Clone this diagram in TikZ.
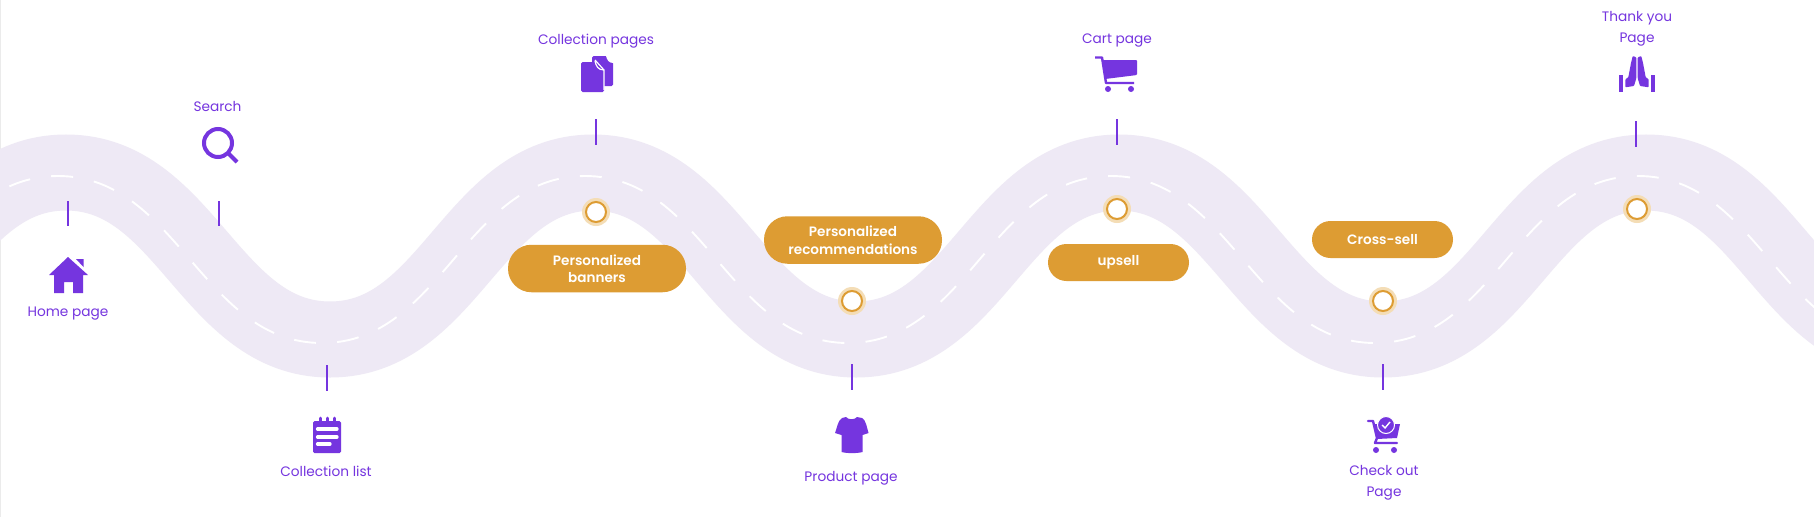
\documentclass[tikz,border=0pt]{standalone}
\usepackage{fontspec}
\setmainfont[BoldFont={Poppins SemiBold}]{Poppins}
\usetikzlibrary{positioning}
\definecolor{roadcol}{HTML}{EEE9F5}
\definecolor{iconcol}{HTML}{7535DF}
\definecolor{pillcol}{HTML}{DD9C33}
\definecolor{halocol}{HTML}{F4DDB6}
\tikzset{
  every node/.style={font=\fontsize{13.7}{21}\selectfont},
  label text/.style={text=iconcol,align=center,inner sep=0pt},
  pill/.style={fill=pillcol,rounded corners=23.5pt,minimum height=47.5pt,minimum width=178pt,
    text=white,align=center,inner sep=0pt,font=\fontsize{13.6}{17.5}\selectfont\bfseries},
  tick line/.style={draw=iconcol,line width=1.6pt},
  icon/.style={fill=iconcol,draw=none},
  cutout/.style={draw=white,line width=1.2pt},
  halo dot/.style={circle,fill=white,draw=pillcol,line width=2pt,minimum size=20pt,inner sep=0pt},
}
\newcommand{\roadwave}{(-205,343) .. controls (-85,343) and (-62,176) .. (58,176)
  .. controls (178,176) and (202,343) .. (322,343)
  .. controls (442,343) and (465,176) .. (585,176)
  .. controls (705,176) and (728,343) .. (848,343)
  .. controls (968,343) and (991,176) .. (1111,176)
  .. controls (1231,176) and (1255,343) .. (1375,343)
  .. controls (1495,343) and (1518,176) .. (1638,176)
  .. controls (1758,176) and (1781,343) .. (1901,343)}
\begin{document}
\begin{tikzpicture}[x=1pt,y=-1pt]
  \useasboundingbox (0,0) rectangle (1814,517);
  \clip (0,0) rectangle (1814,517);
  \fill[white] (0,0) rectangle (1814,517);
  \draw[black!8,line width=1pt] (0.5,0) -- (0.5,517);

  \begin{scope}[xshift=8pt,yshift=3.5pt]
    \draw[roadcol,line width=76pt] \roadwave;
  \end{scope}
  \draw[white,line width=1.9pt,dash pattern=on 22pt off 21.24pt,dash phase=29.67pt] \roadwave;

  \draw[tick line] (68,201) -- (68,226);
  \draw[tick line] (219,201) -- (219,226);
  \draw[tick line] (327,365) -- (327,391);
  \draw[tick line] (596,119) -- (596,145);
  \draw[tick line] (852,364) -- (852,390);
  \draw[tick line] (1117,119) -- (1117,145);
  \draw[tick line] (1383,364) -- (1383,390);
  \draw[tick line] (1636,121) -- (1636,147);

  \node[pill] (banners) at (597,268.5) {Personalized\\banners};
  \node[pill] (recommend) at (853,240) {Personalized\\recommendations};
  \node[pill,minimum width=141pt,minimum height=37pt,rounded corners=18.5pt] (upsell) at (1118.5,262.5) {upsell};
  \node[pill,minimum width=141pt,minimum height=37pt,rounded corners=18.5pt] (crosssell) at (1382.5,239.5) {Cross-sell};

  \fill[halocol] (596,212) circle[radius=14];
  \fill[halocol] (852,301) circle[radius=14];
  \fill[halocol] (1117,209) circle[radius=14];
  \fill[halocol] (1383,301) circle[radius=14];
  \fill[halocol] (1637,209) circle[radius=14];
  \node[halo dot] (stop1) at (596,212) {};
  \node[halo dot] (stop2) at (852,301) {};
  \node[halo dot] (stop3) at (1117,209) {};
  \node[halo dot] (stop4) at (1383,301) {};
  \node[halo dot] (stop5) at (1637,209) {};

  \node[label text] (home) at (68,314) {Home page};
  \node[label text] (search) at (217.5,106) {Search};
  \node[label text] (list) at (326,471) {Collection list};
  \node[label text] (pages) at (596,41) {Collection pages};
  \node[label text] (product) at (851,478.5) {Product page};
  \node[label text] (cart) at (1117,41) {Cart page};
  \node[label text] (checkout) at (1384,482.5) {Check out\\Page};
  \node[label text] (thanks) at (1637,28.5) {Thank you\\Page};

  % home
  \fill[icon] (68,257) -- (88,275) -- (83,275) -- (83,293) -- (73,293) -- (73,282) -- (64,282)
    -- (64,293) -- (54,293) -- (54,275) -- (49,275) -- cycle;
  \fill[icon] (76,259) -- (83.5,259) -- (83.5,267) -- cycle;

  % search
  \draw[iconcol,line width=4pt] (218,143) circle[radius=14];
  \draw[iconcol,line width=4pt] (228,153) -- (237,162);

  % documents
  \fill[icon,rounded corners=1.5pt] (592,56) -- (607,56) -- (613,62) -- (613,86) -- (592,86) -- cycle;
  \fill[icon,rounded corners=1.5pt] (581,62) -- (596,62) -- (604,70) -- (604,92) -- (581,92) -- cycle;
  \draw[cutout] (595,60) -- (604,70) -- (604,90);
  \draw[cutout] (595,61) .. controls (596,66) and (598,70) .. (604,70);
  \fill[white] (606,56) -- (613,56) -- (613,63) .. controls (609,63) and (607,60) .. (606,56);

  % notepad
  \fill[icon,rounded corners=1.5pt] (313,421) rectangle (341,453);
  \draw[iconcol,line width=3pt,line cap=round] (320,418) -- (320,422);
  \draw[iconcol,line width=3pt,line cap=round] (327,418) -- (327,422);
  \draw[iconcol,line width=3pt,line cap=round] (334,418) -- (334,422);
  \draw[white,line width=3.2pt,line cap=round] (317.5,429) -- (337,429);
  \draw[white,line width=3.2pt,line cap=round] (317.5,437) -- (337,437);
  \draw[white,line width=3.2pt,line cap=round] (317.5,444) -- (330,444);

  % shirt
  \fill[icon] (842,418) -- (846,417) .. controls (848,420) and (855,420) .. (857,417) -- (862,418)
    .. controls (866,420) and (867,428) .. (868.5,433) -- (862.5,435) -- (862.5,452)
    .. controls (857,453.5) and (847,453.5) .. (841.5,452) -- (841.5,435) -- (835,433)
    .. controls (837,428) and (838,420) .. (842,418) -- cycle;

  % cart
  \draw[iconcol,line width=2.4pt,line join=round] (1095,57.5) -- (1102,57.5) -- (1106,83) -- (1134,83);
  \fill[icon,rounded corners=1pt] (1102,60) -- (1137,60) -- (1137,75) -- (1105,79) -- cycle;
  \fill[iconcol] (1108,89) circle[radius=3];
  \fill[iconcol] (1131,89) circle[radius=3];

  % checkout
  \draw[iconcol,line width=2.4pt,line cap=round,line join=round] (1368,421) -- (1373,421) -- (1377,438)
    -- (1375,443) -- (1397,443);
  \fill[icon] (1373,424) -- (1400,424) -- (1397,438) -- (1377,439) -- cycle;
  \fill[icon,draw=white,line width=1pt] (1386,425) circle[radius=8.5];
  \draw[white,line width=1.4pt] (1382,425) -- (1385,428) -- (1390,422);
  \fill[iconcol] (1376,450) circle[radius=3];
  \fill[iconcol] (1394,450) circle[radius=3];

  % hands
  \fill[icon] (1619,75) rectangle (1623.3,92);
  \fill[icon] (1651,75) rectangle (1655.3,92);
  \begin{scope}[shift={(1637,0)}]
    \fill[icon,rounded corners=0.8pt] (-4.3,56) -- (-0.7,57.3) -- (-0.7,78.3) -- (-3,86) -- (-11.7,87.3)
      -- (-11.7,79.3) -- (-8.7,77.3) -- (-6,63) -- cycle;
    \fill[icon,rounded corners=0.8pt] (4.3,56) -- (0.7,57.3) -- (0.7,78.3) -- (3,86) -- (11.7,87.3)
      -- (11.7,79.3) -- (8.7,77.3) -- (6,63) -- cycle;
  \end{scope}
\end{tikzpicture}
\end{document}
